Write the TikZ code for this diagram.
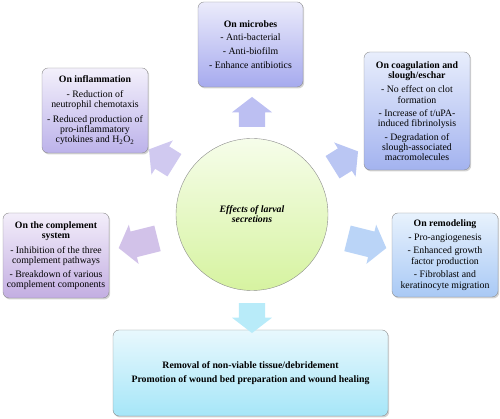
\documentclass[tikz,border=0pt]{standalone}
\usepackage{fontspec}
\setmainfont{Liberation Serif}
\usetikzlibrary{shapes.arrows,shadows}
\definecolor{micTop}{HTML}{EBEBFB}\definecolor{micBot}{HTML}{A6AAEE}
\definecolor{infTop}{HTML}{F3F0FB}\definecolor{infBot}{HTML}{BCB2EA}
\definecolor{coaTop}{HTML}{E8EEFC}\definecolor{coaBot}{HTML}{A3B3EF}
\definecolor{comTop}{HTML}{F3EEFA}\definecolor{comBot}{HTML}{C3AEE2}
\definecolor{remTop}{HTML}{E8F2FD}\definecolor{remBot}{HTML}{A9C9F5}
\definecolor{outTop}{HTML}{E8F8FD}\definecolor{outBot}{HTML}{A6E6F8}
\definecolor{hubTop}{HTML}{F6FDEA}\definecolor{hubBot}{HTML}{D6F3A0}
\begin{document}
\begin{tikzpicture}[x=1pt,y=1pt,
    font=\fontsize{9.8}{10.2}\selectfont,
    effbox/.style={draw=black!45, rounded corners=6pt, align=center, inner sep=1pt,
      drop shadow={opacity=0.35,shadow xshift=1.2pt,shadow yshift=-1.5pt}},
    blockarr/.style={single arrow, single arrow head extend=7pt, single arrow tip angle=105,
      inner xsep=0pt, inner ysep=13pt, minimum height=30pt, draw=none}]
    \useasboundingbox (0,0) rectangle (500,419);
    % central circle
    \node[circle, draw=black!45, minimum size=152pt, top color=hubTop, bottom color=hubBot,
      font=\fontsize{9.8}{10.2}\selectfont\bfseries\itshape, align=center] (hub) at (252,204.5)
      {Effects of larval\\secretions};
    %
    \node[effbox, minimum width=105pt, minimum height=85pt, top color=micTop, bottom color=micBot] (mic) at (250.5,374.5)
      {\textbf{On microbes}\\[3.5pt] - Anti-bacterial\\[3.5pt] - Anti-biofilm\\[3.5pt] - Enhance antibiotics};
    \node[effbox, minimum width=106pt, minimum height=85pt, top color=infTop, bottom color=infBot] (inf) at (95,308.5)
      {\textbf{On inflammation}\\[4.5pt] - Reduction of\\neutrophil chemotaxis\\[4.5pt] - Reduced production of\\pro-inflammatory\\cytokines and H\textsubscript{2}O\textsubscript{2}};
    \node[effbox, minimum width=106pt, minimum height=118pt, top color=coaTop, bottom color=coaBot] (coa) at (417,308)
      {\textbf{On coagulation and}\\\textbf{slough/eschar}\\[4.5pt] - No effect on clot\\formation\\[3pt] - Increase of t/uPA-\\induced fibrinolysis\\[3.5pt] - Degradation of\\slough-associated\\macromolecules};
    \node[effbox, minimum width=106pt, minimum height=85pt, top color=comTop, bottom color=comBot] (com) at (56,163.5)
      {\textbf{On the complement}\\\textbf{system}\\[4.5pt] - Inhibition of the three\\complement pathways\\[3.5pt] - Breakdown of various\\complement components};
    \node[effbox, minimum width=106pt, minimum height=84pt, top color=remTop, bottom color=remBot] (rem) at (445,164)
      {\textbf{On remodeling}\\[3.5pt] - Pro-angiogenesis\\[3.5pt] - Enhanced growth\\factor production\\[3.5pt] - Fibroblast and\\keratinocyte migration};
    \node[effbox, minimum width=275pt, minimum height=86pt, top color=outTop, bottom color=outBot,
      font=\fontsize{9.8}{10.2}\selectfont\bfseries] (out) at (250.5,46)
      {Removal of non-viable tissue/debridement\\[4.5pt]Promotion of wound bed preparation and wound healing};
    %
    \node[blockarr, fill=micBot!75, rotate=90] (toMic) at (252,302) {};
    \node[blockarr, fill=coaBot!75, rotate=32] (toCoa) at (341,257) {};
    \node[blockarr, fill=remBot!80, rotate=-14, minimum height=40pt] (toRem) at (362,177) {};
    \node[blockarr, fill=outBot!80, rotate=-90] (toOut) at (252,106) {};
    \node[blockarr, fill=comBot!75, rotate=194, minimum height=40pt] (toCom) at (143,177) {};
    \node[blockarr, fill=infBot!70, rotate=148] (toInf) at (166,259) {};
  \end{tikzpicture}
\end{document}
